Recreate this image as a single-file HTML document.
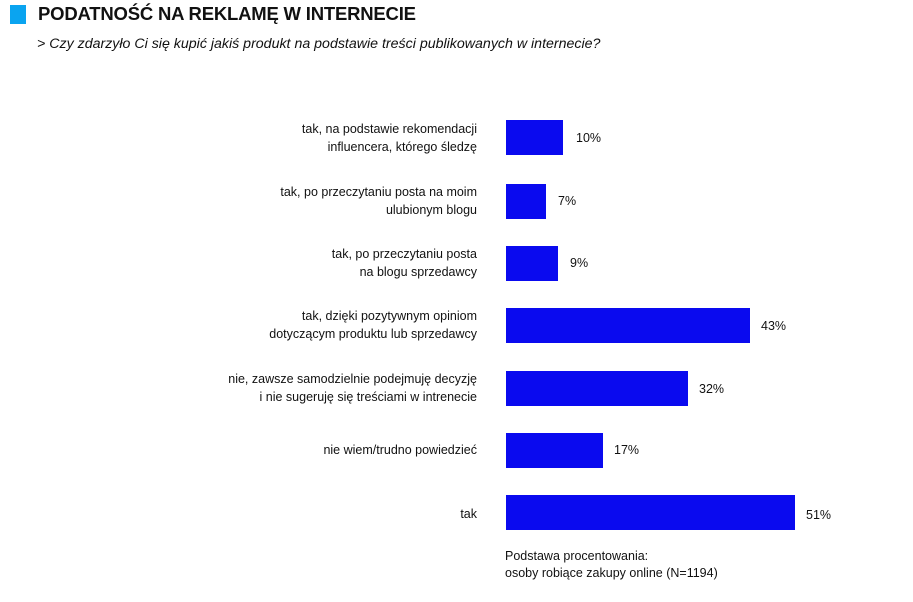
<!DOCTYPE html>
<html><head><meta charset="utf-8"><style>
body{margin:0;width:913px;height:602px;background:#fff;position:relative;font-family:"Liberation Sans",sans-serif;color:#111;overflow:hidden}
.a{position:absolute;white-space:nowrap}
.bar{position:absolute;left:506px;height:35px;background:#0a0aef}
.lab{position:absolute;right:436px;text-align:right;font-size:12.5px;line-height:18px}
.v{position:absolute;font-size:12.5px}
</style></head><body>
<div class="a" style="left:10px;top:5px;width:16px;height:19px;background:#0aa4f0"></div>
<div class="a" style="left:38px;top:3px;font-size:18.5px;font-weight:bold;letter-spacing:-0.2px">PODATNOŚĆ NA REKLAMĘ W INTERNECIE</div>
<div class="a" style="left:37px;top:36px;font-size:14.2px;font-style:italic">&gt; Czy zdarzyło Ci się kupić jakiś produkt na podstawie treści publikowanych w internecie?</div>

<div class="bar" style="top:120px;width:57px"></div><div class="v" style="left:576px;top:131px">10%</div>
<div class="lab" style="top:120px">tak, na podstawie rekomendacji<br>influencera, którego śledzę</div>
<div class="bar" style="top:184px;width:40px"></div><div class="v" style="left:558px;top:194px">7%</div>
<div class="lab" style="top:183px">tak, po przeczytaniu posta na moim<br>ulubionym blogu</div>
<div class="bar" style="top:246px;width:52px"></div><div class="v" style="left:570px;top:256px">9%</div>
<div class="lab" style="top:245px">tak, po przeczytaniu posta<br>na blogu sprzedawcy</div>
<div class="bar" style="top:308px;width:244px"></div><div class="v" style="left:761px;top:319px">43%</div>
<div class="lab" style="top:307px">tak, dzięki pozytywnym opiniom<br>dotyczącym produktu lub sprzedawcy</div>
<div class="bar" style="top:371px;width:182px"></div><div class="v" style="left:699px;top:382px">32%</div>
<div class="lab" style="top:370px">nie, zawsze samodzielnie podejmuję decyzję<br>i nie sugeruję się treściami w intrenecie</div>
<div class="bar" style="top:433px;width:97px"></div><div class="v" style="left:614px;top:443px">17%</div>
<div class="lab" style="top:441px">nie wiem/trudno powiedzieć</div>
<div class="bar" style="top:495px;width:289px"></div><div class="v" style="left:806px;top:508px">51%</div>
<div class="lab" style="top:505px">tak</div>

<div class="a" style="left:505px;top:548px;font-size:12.5px;line-height:17px">Podstawa procentowania:<br>osoby robiące zakupy online (N=1194)</div>
</body></html>
